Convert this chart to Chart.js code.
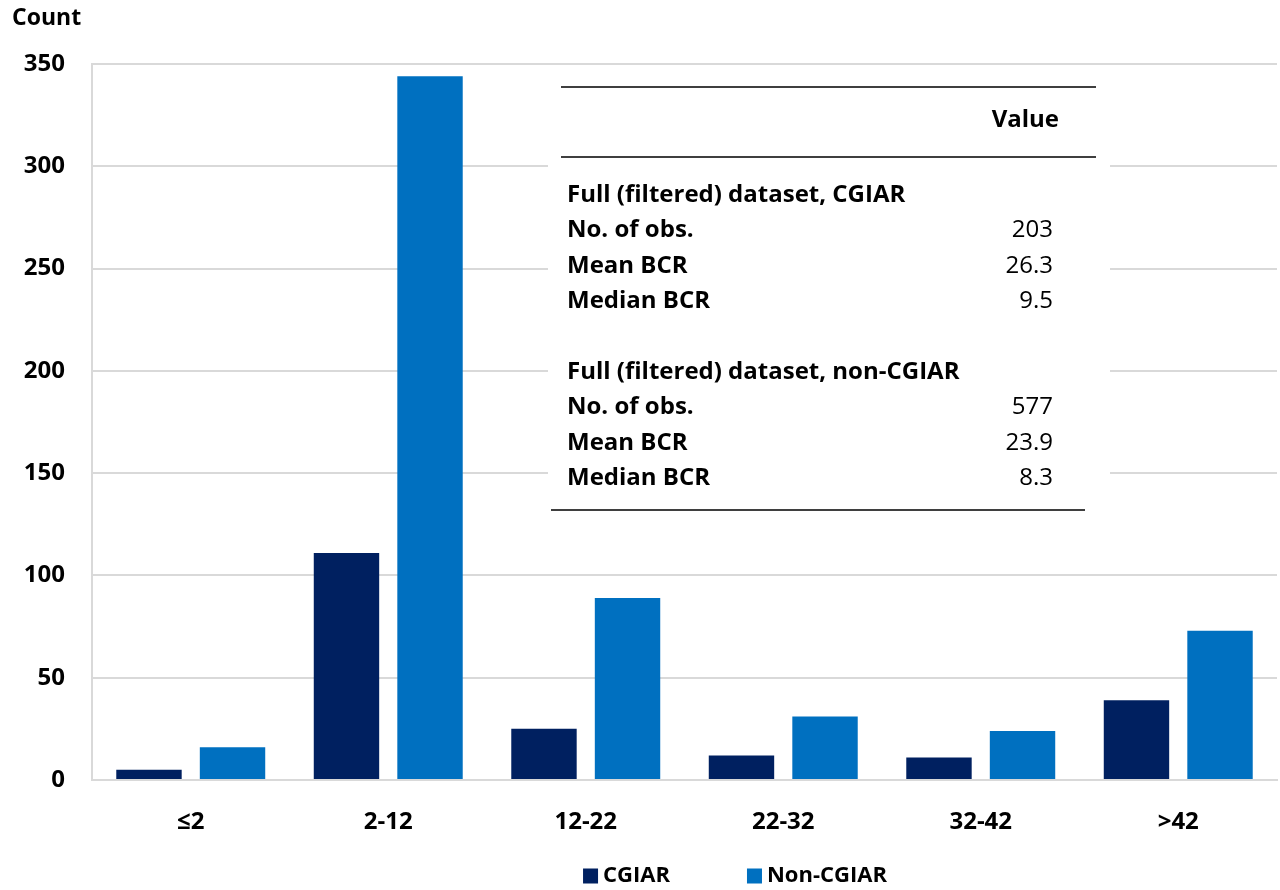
<!DOCTYPE html>
<html>
<head>
<meta charset="utf-8">
<script src="https://cdn.jsdelivr.net/npm/chart.js@4.4.1/dist/chart.umd.min.js"></script>
<style>
  html, body { margin: 0; padding: 0; background: #fff; }
  #wrap { width: 1280px; height: 890px; }
</style>
</head>
<body>
<div id="wrap"><canvas id="bcrChart" width="1280" height="890"></canvas></div>
<script>
// BCR bins and counts per group
const bins = ['≤2', '2-12', '12-22', '22-32', '32-42', '>42'];
const cgiarCounts = [5, 111, 25, 12, 11, 39];
const nonCgiarCounts = [16, 344, 89, 31, 24, 73];
const yTicks = [0, 50, 100, 150, 200, 250, 300, 350];

// summary table rows (label, value); empty label = spacer row
const tableHeader = 'Value';
const tableLabels = ['Full (filtered) dataset, CGIAR', 'No. of obs.', 'Mean BCR', 'Median BCR', '',
  'Full (filtered) dataset, non-CGIAR', 'No. of obs.', 'Mean BCR', 'Median BCR'];
const tableValues = ['', '203', '26.3', '9.5', '', '', '577', '23.9', '8.3'];

const FONT = '"Open Sans", Lato, sans-serif';

const summaryTable = {
  id: 'summaryTable',
  afterDatasetsDraw(chart) {
    const ctx = chart.ctx;
    ctx.save();
    // white panel over the gridlines
    ctx.fillStyle = '#fff';
    ctx.fillRect(548, 70, 562, 452);

    ctx.strokeStyle = '#000';
    ctx.lineWidth = 1.5;
    ctx.beginPath();
    ctx.moveTo(561, 87); ctx.lineTo(1096, 87);
    ctx.moveTo(561, 157); ctx.lineTo(1096, 157);
    ctx.moveTo(551, 510); ctx.lineTo(1085, 510);
    ctx.stroke();

    ctx.fillStyle = '#000';
    ctx.textBaseline = 'middle';
    ctx.font = 'bold 24px ' + FONT;
    ctx.textAlign = 'right';
    ctx.fillText(tableHeader, 1059, 120);

    const rowH = 35.4;
    tableLabels.forEach((lab, i) => {
      const y = 195 + i * rowH;
      ctx.font = 'bold 24px ' + FONT;
      ctx.textAlign = 'left';
      ctx.fillText(lab, 567, y);
      ctx.font = '24px ' + FONT;
      ctx.textAlign = 'right';
      ctx.fillText(tableValues[i], 1053, y);
    });
    ctx.restore();
  }
};

const titleAndLegend = {
  id: 'titleAndLegend',
  afterDraw(chart) {
    const ctx = chart.ctx;
    ctx.save();
    ctx.fillStyle = '#000';
    ctx.font = 'bold 23px ' + FONT;
    ctx.textBaseline = 'middle';
    ctx.textAlign = 'left';
    ctx.fillText('Count', 12, 18);

    // legend centred under the plot
    ctx.font = 'bold 22px ' + FONT;
    const box = 15, gap = 5, spacing = 77;
    const ds = chart.data.datasets;
    const widths = ds.map(d => box + gap + ctx.measureText(d.label).width);
    const total = widths.reduce((a, b) => a + b, 0) + spacing * (ds.length - 1);
    let x = 735 - total / 2;
    const y = 876;
    ds.forEach((d, i) => {
      ctx.fillStyle = d.backgroundColor;
      ctx.fillRect(x, y - box / 2, box, box);
      ctx.fillStyle = '#000';
      ctx.fillText(d.label, x + box + gap, y);
      x += widths[i] + spacing;
    });
    ctx.restore();
  }
};

new Chart(document.getElementById('bcrChart'), {
  type: 'bar',
  data: {
    labels: bins,
    datasets: [
      { label: 'CGIAR', data: cgiarCounts, backgroundColor: '#002060' },
      { label: 'Non-CGIAR', data: nonCgiarCounts, backgroundColor: '#0070C0' }
    ]
  },
  options: {
    responsive: false,
    animation: false,
    categoryPercentage: 0.846,
    barPercentage: 0.783,
    layout: { padding: { left: 0, top: 64, right: 3, bottom: 30 } },
    plugins: {
      legend: { display: false },
      tooltip: { enabled: false }
    },
    scales: {
      x: {
        grid: { display: false, drawTicks: false },
        border: { color: '#d9d9d9', width: 2 },
        ticks: { color: '#000', font: { family: FONT, size: 24, weight: 'bold' }, padding: 28 },
        afterFit(scale) { scale.height = 80; }
      },
      y: {
        min: 0,
        max: 350,
        afterBuildTicks(scale) { scale.ticks = yTicks.map(v => ({ value: v })); },
        grid: { color: '#d9d9d9', lineWidth: 2, drawTicks: false },
        border: { color: '#d9d9d9', width: 2 },
        ticks: { color: '#000', font: { family: FONT, size: 24, weight: 'bold' }, padding: 27 },
        afterFit(scale) { scale.width = 92; }
      }
    }
  },
  plugins: [summaryTable, titleAndLegend]
});
</script>
</body>
</html>
